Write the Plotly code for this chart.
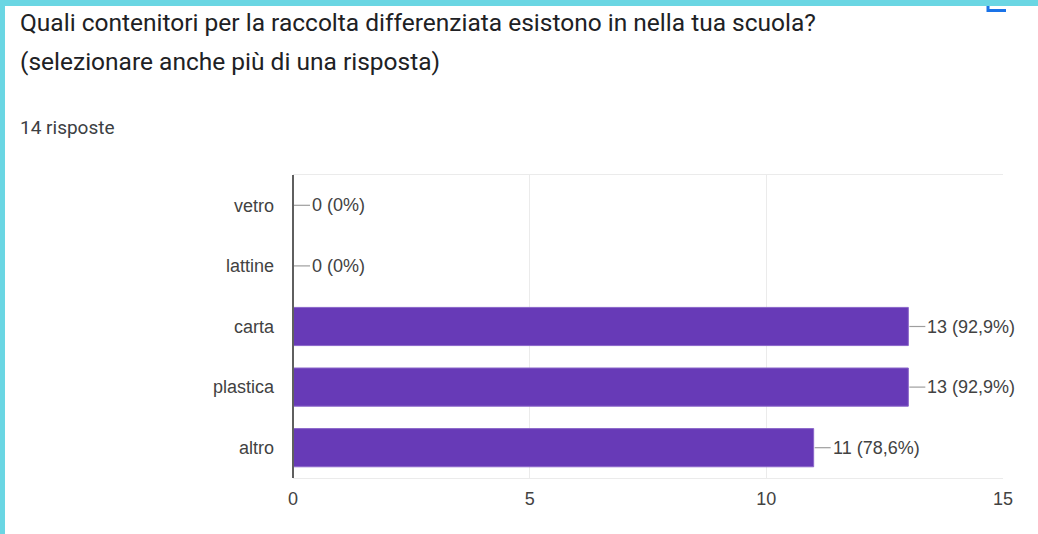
import plotly.graph_objects as go

# risposte al sondaggio (14 risposte totali)
categorie = ["vetro", "lattine", "carta", "plastica", "altro"]
conteggi = [0, 0, 13, 13, 11]
etichette = ["0 (0%)", "0 (0%)", "13 (92,9%)", "13 (92,9%)", "11 (78,6%)"]
tick_x = [0, 5, 10, 15]

W, H = 1038, 534
L, R, T, B = 293, 35, 175, 56
PW, PH = W - L - R, H - T - B


def px_x(px):
    # pixel -> paper x
    return (px - L) / PW


def px_y(py):
    # pixel -> paper y
    return (H - B - py) / PH


fig = go.Figure()
fig.add_trace(go.Bar(
    y=categorie, x=conteggi, orientation="h",
    marker=dict(color="#673ab7", line=dict(color="#8a66c9", width=1)),
    width=0.63, hoverinfo="skip",
))

# linee guida e valori
for cat, val, txt in zip(categorie, conteggi, etichette):
    fig.add_shape(type="line", xref="x", yref="y", xsizemode="pixel",
                  xanchor=val, x0=1, x1=17, y0=cat, y1=cat,
                  line=dict(color="#9e9e9e", width=1.2))
    fig.add_annotation(x=val, y=cat, text=txt, showarrow=False,
                       xanchor="left", xshift=17,
                       font=dict(family="Liberation Sans, Arial", size=18, color="#424242"))

# titolo (due righe) e sottotitolo
titolo = ["Quali contenitori per la raccolta differenziata esistono in nella tua scuola?",
          "(selezionare anche più di una risposta)"]
for riga, ypx in zip(titolo, [23, 61]):
    fig.add_annotation(xref="paper", yref="paper", x=px_x(18), y=px_y(ypx),
                       xanchor="left", yanchor="middle", showarrow=False, text=riga,
                       font=dict(family="Roboto", size=24.5, color="#202124"))
fig.add_annotation(xref="paper", yref="paper", x=px_x(18), y=px_y(127),
                   xanchor="left", yanchor="middle", showarrow=False,
                   text="14 risposte",
                   font=dict(family="Roboto", size=19, color="#3c4043"))

# bordo ciano dello screenshot
fig.add_shape(type="rect", xref="paper", yref="paper", layer="above",
              x0=px_x(0), x1=px_x(W), y0=px_y(0), y1=px_y(6),
              fillcolor="#6ad6e3", line_width=0)
fig.add_shape(type="rect", xref="paper", yref="paper", layer="above",
              x0=px_x(0), x1=px_x(5), y0=px_y(0), y1=px_y(H),
              fillcolor="#6ad6e3", line_width=0)
# icona blu tagliata in alto a destra
fig.add_shape(type="path", xref="paper", yref="paper",
              path=f"M {px_x(988)} {px_y(6)} L {px_x(988)} {px_y(10.5)} L {px_x(1006)} {px_y(10.5)}",
              line=dict(color="#1a73e8", width=3))

fig.update_layout(
    width=W, height=H,
    margin=dict(l=L, r=R, t=T, b=B),
    paper_bgcolor="white", plot_bgcolor="white",
    showlegend=False, bargap=0.37,
    font=dict(family="Liberation Sans, Arial", size=18, color="#424242"),
)
fig.update_xaxes(range=[0, 15], tickvals=tick_x, showgrid=True, gridcolor="#ebebeb",
                 zeroline=False, showline=True, mirror=True, linecolor="#ebebeb",
                 ticks="", ticklabelstandoff=4, fixedrange=True)
fig.update_yaxes(categoryorder="array", categoryarray=categorie, autorange="reversed",
                 showgrid=False, zeroline=False, ticks="", ticklabelstandoff=18)
# linea di base a x=0
fig.add_shape(type="line", xref="paper", yref="paper", x0=0, x1=0, y0=0, y1=1,
              line=dict(color="#5f5f5f", width=2), layer="above")

fig.write_html("out.html", config={"displayModeBar": False},
               post_script="document.body.style.margin='0';")
